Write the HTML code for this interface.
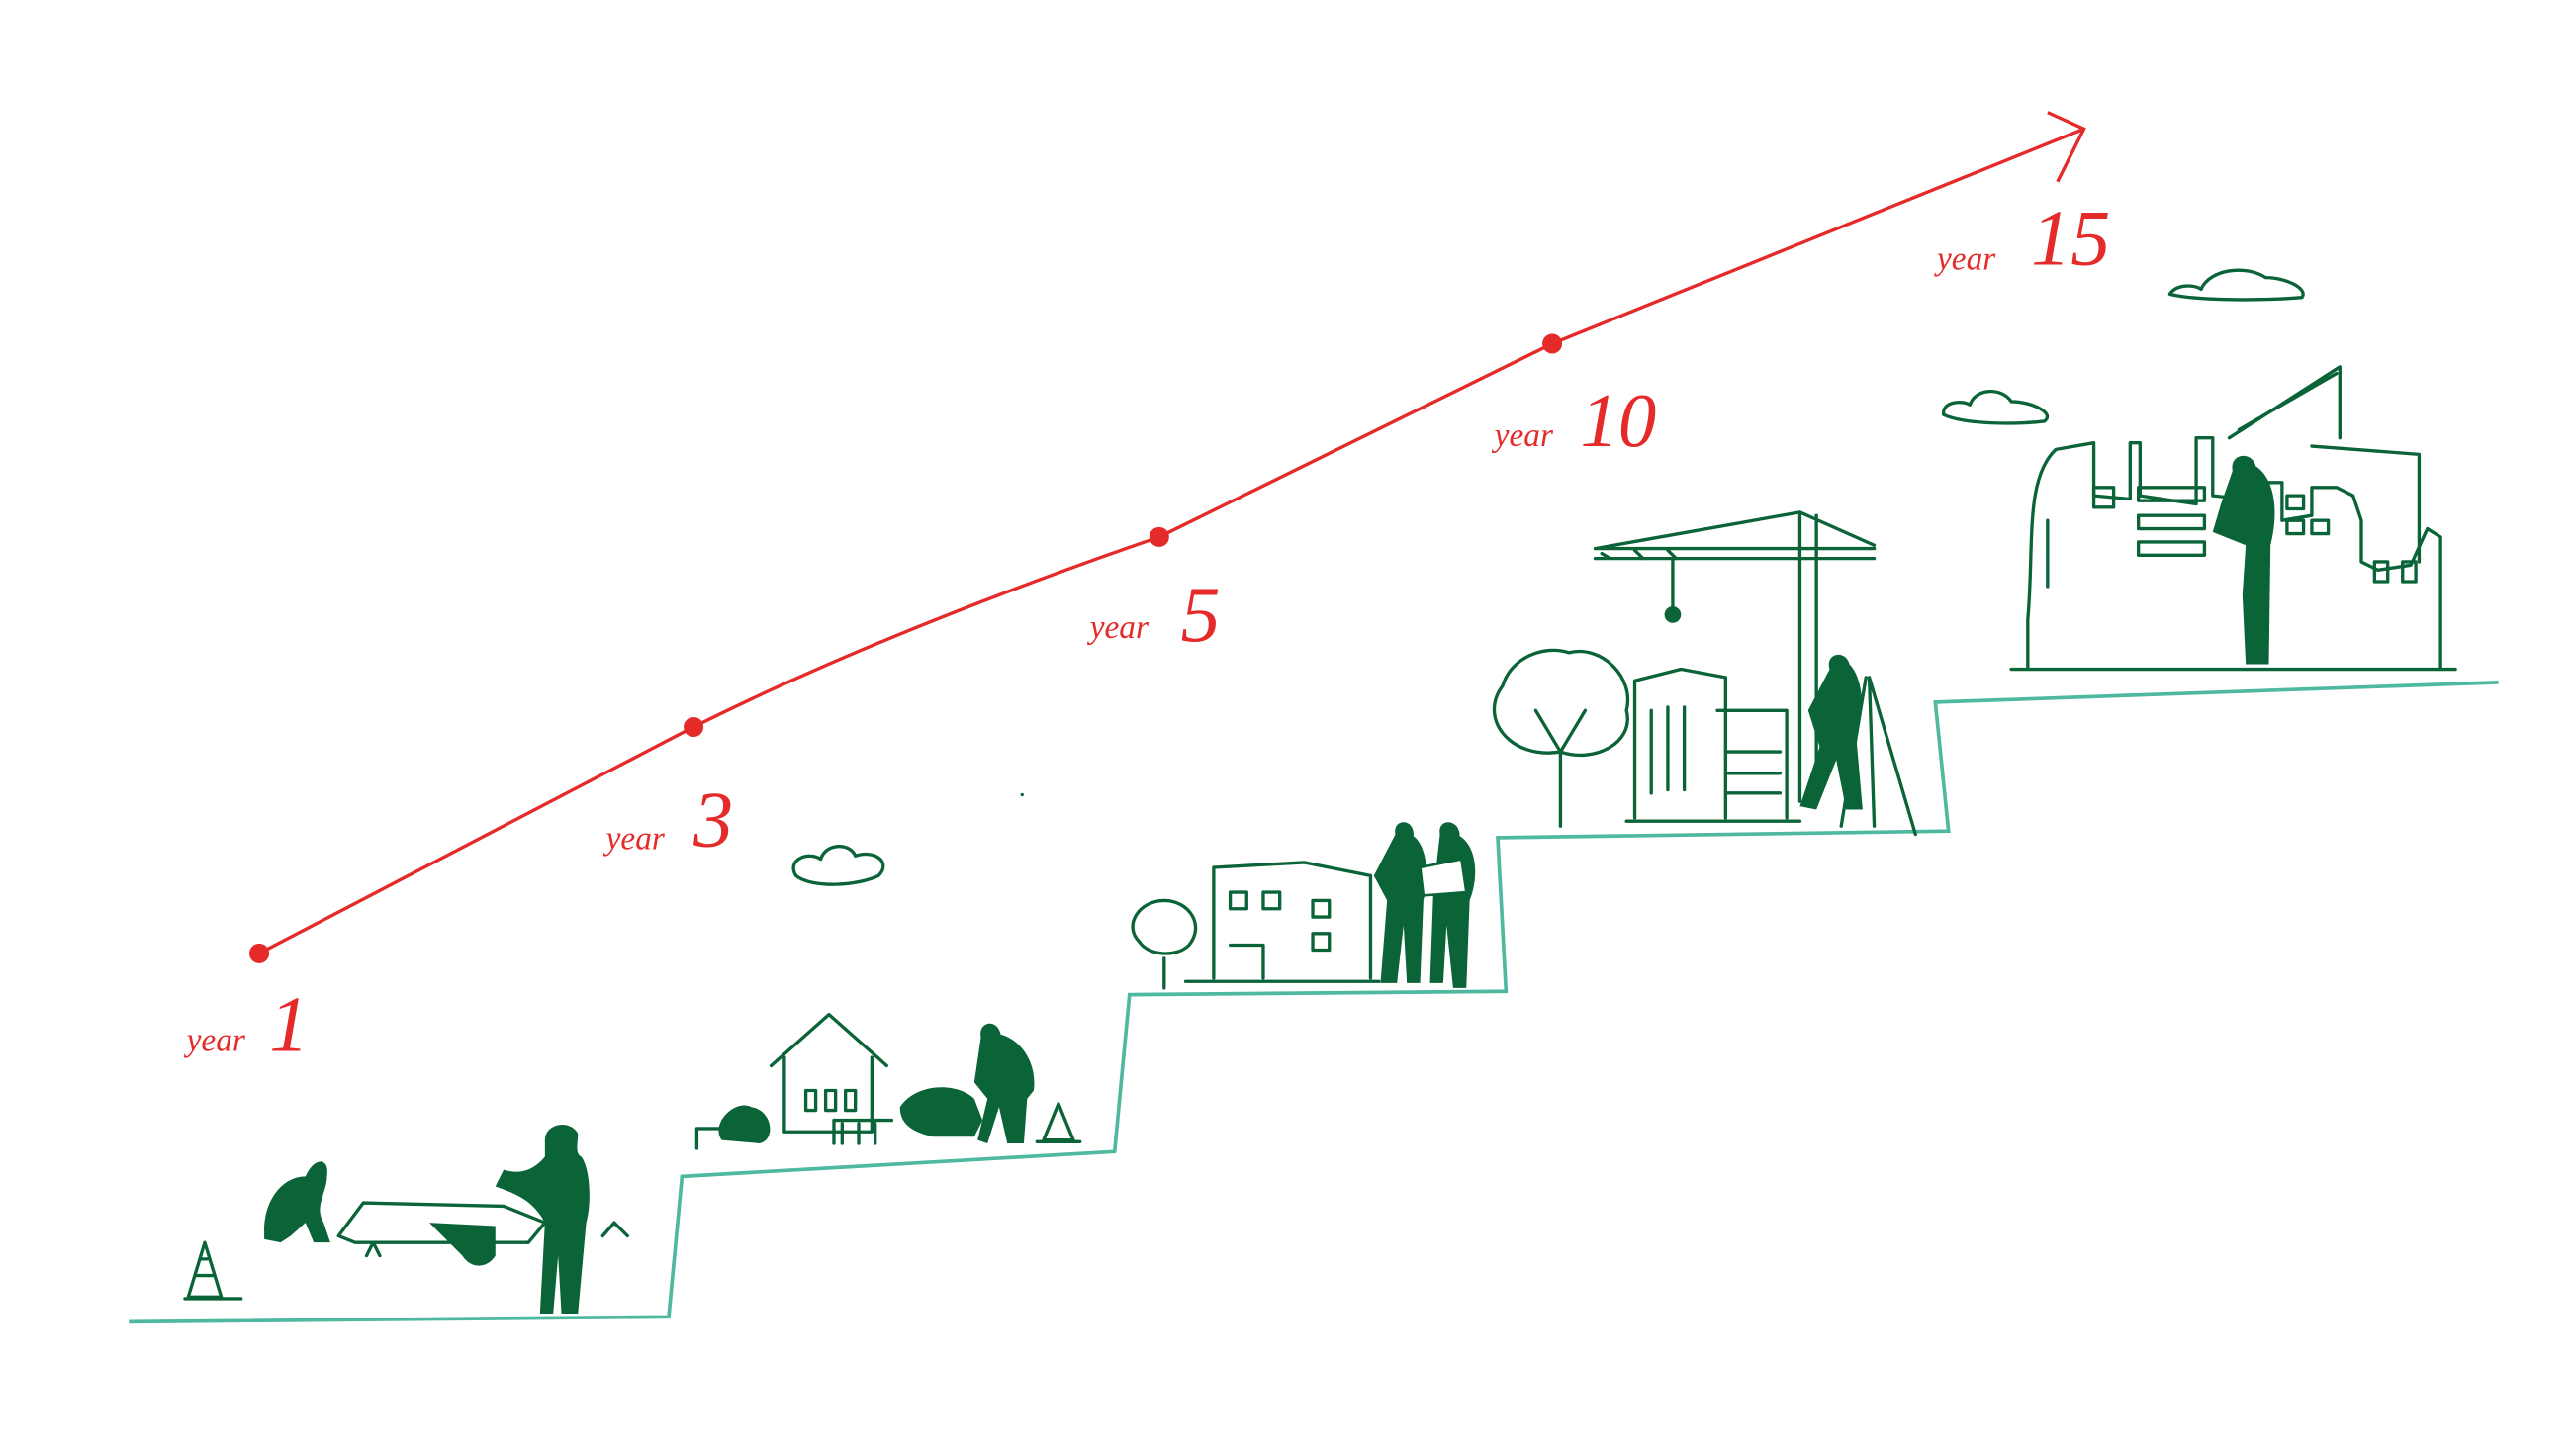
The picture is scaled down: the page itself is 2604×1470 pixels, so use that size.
<!DOCTYPE html>
<html><head><meta charset="utf-8"><style>
html,body{margin:0;padding:0;background:#fff;width:2604px;height:1470px;overflow:hidden}
svg{display:block}
.r{fill:none;stroke:#e52a2a;stroke-width:2}
.g{fill:none;stroke:#0b6338;stroke-width:2;stroke-linejoin:round;stroke-linecap:round}
.f{fill:#0b6338}
.t{font-family:"Liberation Serif",serif;font-style:italic;fill:#e52a2a}
</style></head><body>
<svg width="2604" height="1470" viewBox="0 0 1560 880" preserveAspectRatio="none">
<!-- stairs -->
<path d="M78,800 L405,797 L413,712 L675,697 L684,602 L912,600 L907,507 L1180,503 L1172,425 L1513,413" fill="none" stroke="#4fb9a0" stroke-width="2.2"/>
<!-- red growth line -->
<path class="r" d="M157,577 L420,440 C500,400 600,360 702,325 L940,208 L1262,78"/>
<path class="r" d="M1240,68 L1262,78 L1246,110"/>
<g fill="#e52a2a"><circle cx="157" cy="577" r="6"/><circle cx="420" cy="440" r="6"/><circle cx="702" cy="325" r="6"/><circle cx="940" cy="208" r="6"/></g>
<text class="t" x="113" y="636" font-size="20">year</text><text class="t" x="163" y="636" font-size="48">1</text>
<text class="t" x="367" y="514" font-size="20">year</text><text class="t" x="420" y="512" font-size="48">3</text>
<text class="t" x="660" y="386" font-size="20">year</text><text class="t" x="715" y="388" font-size="48">5</text>
<text class="t" x="905" y="270" font-size="20">year</text><text class="t" x="957" y="270" font-size="46">10</text>
<text class="t" x="1173" y="163" font-size="20">year</text><text class="t" x="1230" y="160" font-size="48">15</text>
<!-- clouds -->
<path class="g" d="M482,530 C476,520 490,515 497,520 C500,510 515,510 518,518 C530,514 540,522 532,530 C520,536 492,538 482,530Z"/>
<path class="g" d="M1177,251 C1176,243 1188,242 1193,245 C1196,235 1212,234 1218,243 C1230,243 1245,250 1238,255 C1220,257 1190,257 1177,251Z"/>
<path class="g" d="M1314,178 C1318,172 1328,172 1333,175 C1338,163 1360,160 1372,168 C1385,168 1398,175 1394,180 C1370,182 1330,182 1314,178Z"/>
<!-- year1 scene -->
<path class="g" d="M114,785 L124,752 L134,785 Z M118,772 H130 M121,762 H127 M112,786 H146"/>
<path class="f" d="M160,745 C160,725 172,712 185,712 C190,700 200,700 198,712 C198,722 190,730 196,740 L200,752 L190,752 L185,740 L176,748 L170,752 L160,750Z"/>
<path class="g" d="M205,748 L220,728 L305,730 L330,740 L320,752 L215,752 Z"/>
<path class="f" d="M260,740 L300,742 L300,760 C295,768 285,768 280,760 Z"/>
<path class="f" d="M330,690 C330,680 345,677 350,686 C350,692 348,698 352,700 C358,708 358,730 355,740 L350,795 L340,795 L338,760 L335,795 L327,795 L330,740 C322,725 310,722 300,718 L305,708 C318,712 326,705 330,700Z"/>
<path class="g" d="M365,748 L372,740 L380,748 M222,760 L226,752 L230,760"/>
<!-- year3 scene -->
<path class="g" d="M467,645 L502,614 L537,645 M475,640 V685 H528 V640 M488,660 h6 v12 h-6z M500,660 h6 v12 h-6z M512,660 h6 v12 h-6z"/>
<path class="g" d="M422,695 V683 H438 M505,692 V678 H540 M510,680 V692 M520,680 V692 M530,680 V692"/>
<path class="f" d="M437,690 C430,680 445,665 455,670 C468,672 470,690 460,692Z"/>
<path class="f" d="M545,670 C555,655 580,655 590,665 L595,678 L590,688 L565,688 C552,685 545,680 545,670Z"/>
<path class="f" d="M594,628 C592,618 604,616 606,626 C620,630 628,645 626,660 L622,665 L620,692 L610,692 L605,670 L598,692 L592,690 L598,665 L590,655 Z"/>
<path class="g" d="M632,690 L641,668 L650,690 Z M628,691 H654"/>
<!-- year5 scene -->
<path class="g" d="M735,592 V525 L790,522 L830,530 V592 M745,540 h10 v10 h-10z M765,540 h10 v10 h-10z M795,545 h10 v10 h-10z M795,565 h10 v10 h-10z M745,572 h20 v20 M718,594 H835"/>
<path class="g" d="M705,598 V580 M690,570 C680,560 690,545 705,545 C720,545 730,560 720,572 C712,580 695,578 690,570Z"/>
<path class="f" d="M845,505 C843,495 857,495 856,506 C864,512 866,530 862,545 L860,595 L852,595 L850,560 L846,595 L836,595 L840,545 L832,530 Z"/>
<path class="f" d="M872,505 C870,495 884,495 884,506 C894,512 896,530 890,545 L888,598 L880,598 L876,560 L874,595 L866,595 L868,540 Z"/>
<path d="M860,525 L885,520 L888,540 L862,542Z" fill="#fff" stroke="#0b6338" stroke-width="1.5"/>
<!-- year10 scene -->
<path class="g" d="M945,500 V455 M945,455 C915,460 895,435 910,415 C915,398 935,390 950,395 C970,390 990,410 985,430 C990,450 965,462 945,455Z M930,430 L945,455 L960,430"/>
<path class="g" d="M990,495 V412 L1018,405 L1045,410 V495 M1000,430 V480 M1010,428 V478 M1020,428 V478 M1040,430 H1082 V495 M1045,455 H1078 M1045,468 H1078 M1045,480 H1078 M985,497 H1090"/>
<path class="g" d="M966,332 L1090,310 L1135,330 M966,332 H1135 M966,338 H1135 M1090,310 V485 M1100,312 V485 M1013,338 V370 M970,335 L975,338 M990,333 L995,338 M1010,333 L1015,338"/>
<circle cx="1013" cy="372" r="5" class="f"/>
<path class="f" d="M1108,405 C1105,395 1118,393 1120,402 C1128,410 1130,430 1124,445 L1128,490 L1118,490 L1112,460 L1100,490 L1090,488 L1102,452 L1095,430 Z"/>
<path class="g" d="M1130,410 L1115,500 M1132,410 L1160,505 M1132,410 L1135,500"/>
<!-- year15 scene -->
<path class="g" d="M1218,405 H1487 M1228,405 V375 C1232,330 1226,290 1245,272 L1268,268 V300 L1290,302 V268 L1296,268 V300 L1330,305 V265 L1340,265 V300 L1370,303 V292 L1382,292 V315 L1400,312 V295 L1415,295 L1425,300 L1430,315 V340 L1440,345 L1460,342 L1470,320 L1478,325 V405"/>
<path class="g" d="M1240,315 V355 M1268,295 h12 v12 h-12z M1295,295 h40 v8 h-40z M1295,312 h40 v8 h-40z M1295,328 h40 v8 h-40z M1385,300 h10 v8 h-10z M1385,315 h10 v8 h-10z M1400,315 h10 v8 h-10z M1438,340 h8 v12 h-8z M1455,340 h8 v12 h-8z"/>
<path class="g" d="M1350,265 L1417,222 V265 M1356,260 L1415,226 M1400,270 L1465,275 V340"/>
<path class="f" d="M1352,285 C1350,274 1364,273 1366,282 C1378,290 1380,310 1375,330 L1374,402 L1360,402 L1358,360 L1360,330 L1340,322 L1345,305 Z"/>
<circle cx="619" cy="481" r="1" class="f"/>
</svg>
</body></html>
